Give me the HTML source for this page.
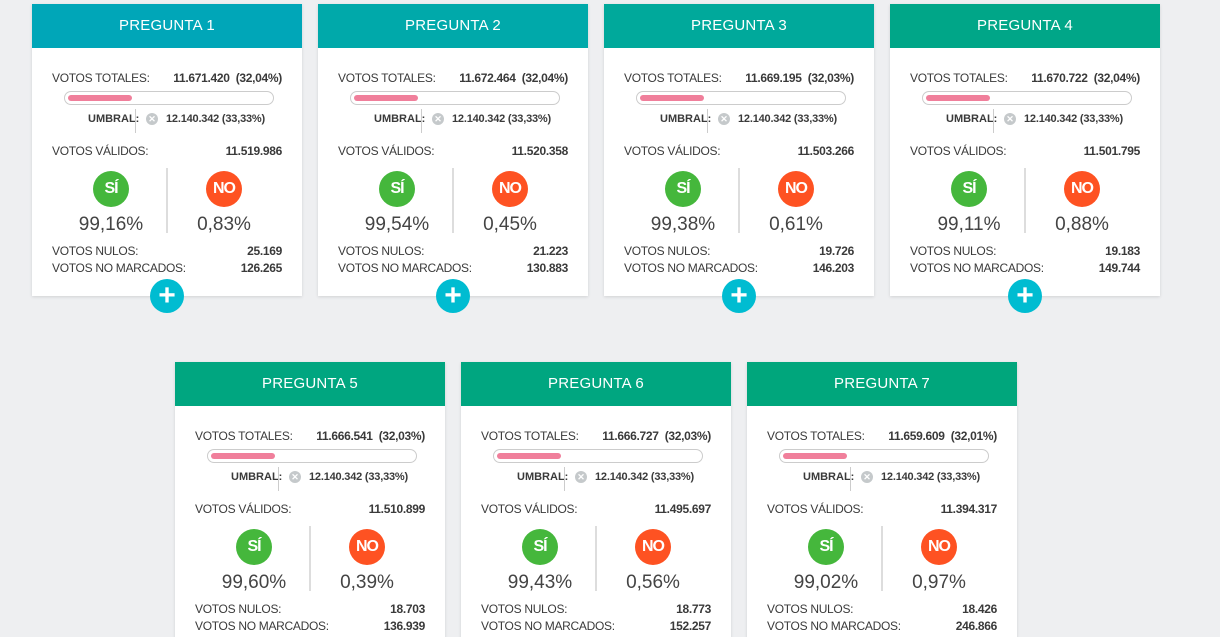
<!DOCTYPE html>
<html><head><meta charset="utf-8"><style>
*{margin:0;padding:0;box-sizing:border-box}
html,body{width:1220px;height:637px;overflow:hidden}
body{background:#eeeff1;font-family:"Liberation Sans",sans-serif;color:#3a3a3a;position:relative}
.c{position:absolute;width:270px;height:292px;background:#fff;box-shadow:0 1px 3px rgba(0,0,0,.12)}
.h{position:absolute;left:0;top:0;width:270px;height:44px;color:#fff;font-size:15px;text-align:center;line-height:44px;letter-spacing:.2px}
.r{position:absolute;left:20px;width:230px;font-size:12px;display:flex;justify-content:space-between;letter-spacing:-.3px}
.r b{font-weight:bold}
.bar{position:absolute;left:32px;top:87px;width:210px;height:14px;border:1px solid #ccc;border-radius:7px}
.fill{position:absolute;left:3px;top:3px;width:64px;height:6px;border-radius:3px;background:#f07f9b}
.um{position:absolute;top:108px;left:0;width:270px;font-size:11px;font-weight:bold;height:20px;line-height:14px}
.um .l{position:absolute;left:56px;top:0}
.um .d{position:absolute;left:103px;top:-3px;width:1px;height:24px;background:#ccc}
.um .x{position:absolute;left:114px;top:1px;width:12px;height:12px;border-radius:50%;background:#c5c9cb;color:#fff;font-size:9px;text-align:center;line-height:12px}
.um .v{position:absolute;left:134px;top:0;font-weight:bold;letter-spacing:-.2px}
.si,.no{position:absolute;top:167px;width:36px;height:36px;border-radius:50%;color:#fff;font-weight:bold;font-size:16px;text-align:center;line-height:36px;letter-spacing:-1px}
.si{left:61px;background:#45b73c}.no{left:174px;background:#fe5222}
.vd{position:absolute;left:134px;top:164px;width:2px;height:65px;background:#ddd}
.p{position:absolute;top:210px;width:120px;text-align:center;font-size:19px;color:#444}
.p1{left:19px}.p2{left:132px}
.plus{position:absolute;left:118px;top:275px;width:34px;height:34px;border-radius:50%;background:#00bcd1;color:#fff;font-size:30px;text-align:center;line-height:34px;font-weight:bold;z-index:2}
</style></head><body>

<div class="c" style="left:32px;top:4px"><div class="h" style="background:#00a6b8">PREGUNTA 1</div>
<div class="r" style="top:67px"><span>VOTOS TOTALES:</span><b>11.671.420&nbsp; (32,04%)</b></div>
<div class="bar"><div class="fill"></div></div>
<div class="um"><span class="l">UMBRAL:</span><span class="d"></span><span class="x">✕</span><span class="v">12.140.342 (33,33%)</span></div>
<div class="r" style="top:140px"><span>VOTOS VÁLIDOS:</span><b>11.519.986</b></div>
<div class="si">SÍ</div><div class="vd"></div><div class="no">NO</div>
<div class="p p1">99,16%</div><div class="p p2">0,83%</div>
<div class="r" style="top:240px"><span>VOTOS NULOS:</span><b>25.169</b></div>
<div class="r" style="top:257px"><span>VOTOS NO MARCADOS:</span><b>126.265</b></div>
<div class="plus">+</div></div>

<div class="c" style="left:318px;top:4px"><div class="h" style="background:#00a9aa">PREGUNTA 2</div>
<div class="r" style="top:67px"><span>VOTOS TOTALES:</span><b>11.672.464&nbsp; (32,04%)</b></div>
<div class="bar"><div class="fill"></div></div>
<div class="um"><span class="l">UMBRAL:</span><span class="d"></span><span class="x">✕</span><span class="v">12.140.342 (33,33%)</span></div>
<div class="r" style="top:140px"><span>VOTOS VÁLIDOS:</span><b>11.520.358</b></div>
<div class="si">SÍ</div><div class="vd"></div><div class="no">NO</div>
<div class="p p1">99,54%</div><div class="p p2">0,45%</div>
<div class="r" style="top:240px"><span>VOTOS NULOS:</span><b>21.223</b></div>
<div class="r" style="top:257px"><span>VOTOS NO MARCADOS:</span><b>130.883</b></div>
<div class="plus">+</div></div>

<div class="c" style="left:604px;top:4px"><div class="h" style="background:#00a99b">PREGUNTA 3</div>
<div class="r" style="top:67px"><span>VOTOS TOTALES:</span><b>11.669.195&nbsp; (32,03%)</b></div>
<div class="bar"><div class="fill"></div></div>
<div class="um"><span class="l">UMBRAL:</span><span class="d"></span><span class="x">✕</span><span class="v">12.140.342 (33,33%)</span></div>
<div class="r" style="top:140px"><span>VOTOS VÁLIDOS:</span><b>11.503.266</b></div>
<div class="si">SÍ</div><div class="vd"></div><div class="no">NO</div>
<div class="p p1">99,38%</div><div class="p p2">0,61%</div>
<div class="r" style="top:240px"><span>VOTOS NULOS:</span><b>19.726</b></div>
<div class="r" style="top:257px"><span>VOTOS NO MARCADOS:</span><b>146.203</b></div>
<div class="plus">+</div></div>

<div class="c" style="left:890px;top:4px"><div class="h" style="background:#00a688">PREGUNTA 4</div>
<div class="r" style="top:67px"><span>VOTOS TOTALES:</span><b>11.670.722&nbsp; (32,04%)</b></div>
<div class="bar"><div class="fill"></div></div>
<div class="um"><span class="l">UMBRAL:</span><span class="d"></span><span class="x">✕</span><span class="v">12.140.342 (33,33%)</span></div>
<div class="r" style="top:140px"><span>VOTOS VÁLIDOS:</span><b>11.501.795</b></div>
<div class="si">SÍ</div><div class="vd"></div><div class="no">NO</div>
<div class="p p1">99,11%</div><div class="p p2">0,88%</div>
<div class="r" style="top:240px"><span>VOTOS NULOS:</span><b>19.183</b></div>
<div class="r" style="top:257px"><span>VOTOS NO MARCADOS:</span><b>149.744</b></div>
<div class="plus">+</div></div>

<div class="c" style="left:175px;top:362px;height:300px"><div class="h" style="background:#00a680">PREGUNTA 5</div>
<div class="r" style="top:67px"><span>VOTOS TOTALES:</span><b>11.666.541&nbsp; (32,03%)</b></div>
<div class="bar"><div class="fill"></div></div>
<div class="um"><span class="l">UMBRAL:</span><span class="d"></span><span class="x">✕</span><span class="v">12.140.342 (33,33%)</span></div>
<div class="r" style="top:140px"><span>VOTOS VÁLIDOS:</span><b>11.510.899</b></div>
<div class="si">SÍ</div><div class="vd"></div><div class="no">NO</div>
<div class="p p1">99,60%</div><div class="p p2">0,39%</div>
<div class="r" style="top:240px"><span>VOTOS NULOS:</span><b>18.703</b></div>
<div class="r" style="top:257px"><span>VOTOS NO MARCADOS:</span><b>136.939</b></div></div>

<div class="c" style="left:461px;top:362px;height:300px"><div class="h" style="background:#00a680">PREGUNTA 6</div>
<div class="r" style="top:67px"><span>VOTOS TOTALES:</span><b>11.666.727&nbsp; (32,03%)</b></div>
<div class="bar"><div class="fill"></div></div>
<div class="um"><span class="l">UMBRAL:</span><span class="d"></span><span class="x">✕</span><span class="v">12.140.342 (33,33%)</span></div>
<div class="r" style="top:140px"><span>VOTOS VÁLIDOS:</span><b>11.495.697</b></div>
<div class="si">SÍ</div><div class="vd"></div><div class="no">NO</div>
<div class="p p1">99,43%</div><div class="p p2">0,56%</div>
<div class="r" style="top:240px"><span>VOTOS NULOS:</span><b>18.773</b></div>
<div class="r" style="top:257px"><span>VOTOS NO MARCADOS:</span><b>152.257</b></div></div>

<div class="c" style="left:747px;top:362px;height:300px"><div class="h" style="background:#00a67c">PREGUNTA 7</div>
<div class="r" style="top:67px"><span>VOTOS TOTALES:</span><b>11.659.609&nbsp; (32,01%)</b></div>
<div class="bar"><div class="fill"></div></div>
<div class="um"><span class="l">UMBRAL:</span><span class="d"></span><span class="x">✕</span><span class="v">12.140.342 (33,33%)</span></div>
<div class="r" style="top:140px"><span>VOTOS VÁLIDOS:</span><b>11.394.317</b></div>
<div class="si">SÍ</div><div class="vd"></div><div class="no">NO</div>
<div class="p p1">99,02%</div><div class="p p2">0,97%</div>
<div class="r" style="top:240px"><span>VOTOS NULOS:</span><b>18.426</b></div>
<div class="r" style="top:257px"><span>VOTOS NO MARCADOS:</span><b>246.866</b></div></div>

</body></html>
